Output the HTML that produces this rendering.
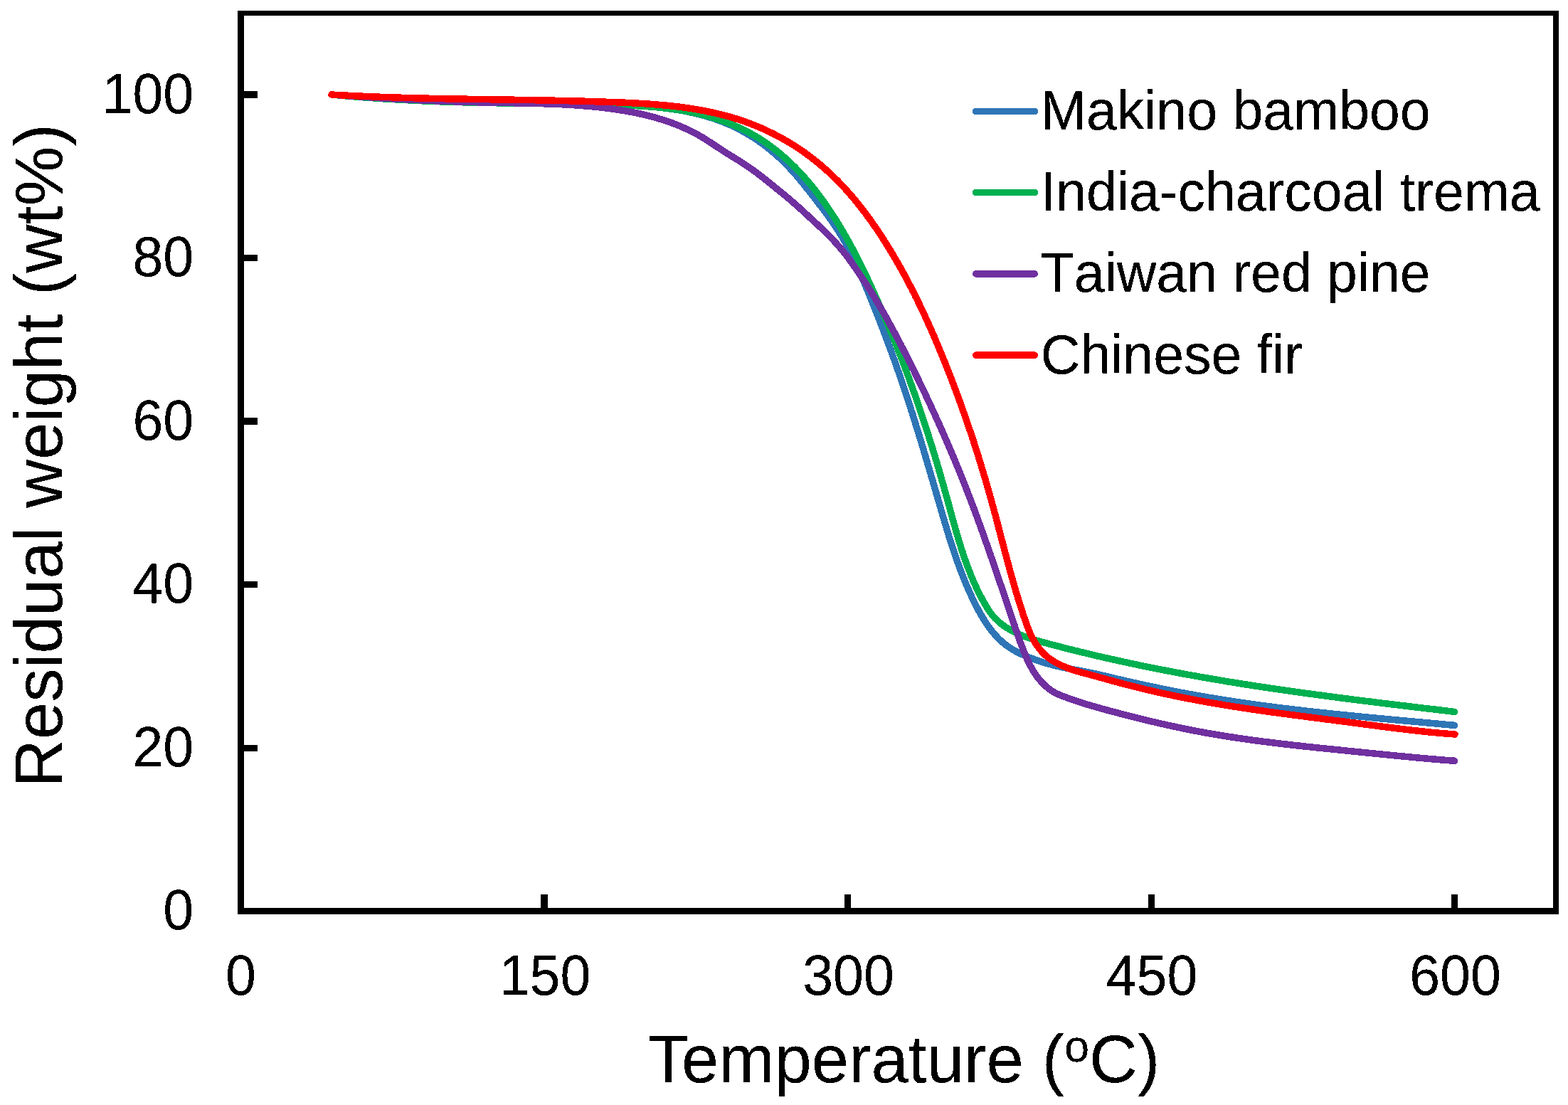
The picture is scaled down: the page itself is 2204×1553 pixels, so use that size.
<!DOCTYPE html>
<html lang="en"><head><meta charset="utf-8">
<title>Thermogravimetric curves: residual weight versus temperature</title>
<style>
html,body{margin:0;padding:0;background:#fff;}
body{width:2204px;height:1553px;overflow:hidden;}
svg{display:block;}
text{font-family:"Liberation Sans", sans-serif;fill:#000;}
.ax{fill:#000;shape-rendering:crispEdges;}
.cv{fill:none;stroke-linecap:round;stroke-linejoin:round;shape-rendering:crispEdges;}
.tx{filter:url(#bw);}
.nk{font-kerning:none;font-feature-settings:"kern" 0,"liga" 0;}
</style></head><body>
<svg width="2204" height="1553" viewBox="0 0 2204 1553" role="img" aria-label="TGA curves">
<defs><filter id="bw" x="0" y="0" width="100%" height="100%" filterUnits="userSpaceOnUse" color-interpolation-filters="sRGB"><feComponentTransfer><feFuncA type="discrete" tableValues="0 0 1 1 1"/></feComponentTransfer></filter></defs>
<rect x="0" y="0" width="2204" height="1553" fill="#fff"/>
<g class="cv" stroke-width="9.5">
<path id="c-blue" stroke="#2E75B6" d="M466.0,133.0 L469.0,133.3 L472.0,133.6 L475.0,133.8 L478.0,134.1 L481.1,134.4 L484.1,134.6 L487.1,134.9 L490.1,135.2 L493.1,135.4 L496.1,135.6 L499.1,135.9 L502.1,136.1 L505.1,136.4 L508.1,136.6 L511.1,136.8 L514.1,137.1 L517.1,137.3 L520.1,137.5 L523.1,137.7 L526.1,137.9 L529.1,138.1 L532.1,138.3 L535.1,138.5 L538.1,138.7 L541.1,138.9 L544.1,139.1 L547.1,139.3 L550.1,139.5 L553.1,139.6 L556.0,139.8 L559.0,140.0 L562.0,140.2 L565.0,140.3 L568.0,140.5 L571.0,140.6 L574.0,140.8 L577.0,140.9 L580.0,141.1 L583.0,141.2 L586.0,141.4 L588.9,141.5 L591.9,141.7 L594.9,141.8 L597.9,141.9 L600.9,142.0 L603.9,142.2 L606.9,142.3 L609.8,142.4 L612.8,142.5 L615.8,142.6 L618.8,142.7 L621.8,142.9 L624.8,143.0 L627.8,143.1 L630.7,143.2 L633.7,143.3 L636.7,143.3 L639.7,143.4 L642.7,143.5 L645.7,143.6 L648.7,143.7 L651.6,143.8 L654.6,143.9 L657.6,143.9 L660.6,144.0 L663.6,144.1 L666.6,144.1 L669.6,144.2 L672.5,144.3 L675.5,144.3 L678.5,144.4 L681.5,144.5 L684.5,144.5 L687.5,144.6 L690.5,144.6 L693.5,144.7 L696.4,144.7 L699.4,144.8 L702.4,144.8 L705.4,144.8 L708.4,144.9 L711.4,144.9 L714.4,145.0 L717.4,145.0 L720.4,145.0 L723.4,145.1 L726.3,145.1 L729.3,145.1 L732.3,145.2 L735.3,145.2 L738.3,145.2 L741.3,145.3 L744.3,145.3 L747.3,145.3 L750.3,145.4 L753.3,145.4 L756.3,145.4 L759.3,145.5 L762.3,145.5 L765.3,145.5 L768.3,145.6 L771.3,145.6 L774.3,145.6 L777.3,145.7 L780.3,145.7 L783.3,145.7 L786.3,145.8 L789.3,145.8 L792.3,145.8 L795.3,145.9 L798.3,145.9 L801.3,146.0 L804.3,146.0 L807.3,146.1 L810.4,146.1 L813.4,146.2 L816.4,146.2 L819.4,146.3 L822.4,146.3 L825.4,146.4 L828.4,146.4 L831.5,146.5 L834.5,146.6 L837.5,146.6 L840.5,146.7 L843.5,146.8 L846.6,146.9 L849.6,146.9 L852.6,147.0 L855.6,147.1 L858.7,147.2 L861.7,147.3 L864.7,147.4 L867.8,147.5 L870.8,147.6 L873.8,147.7 L876.9,147.8 L879.9,147.9 L882.9,148.1 L885.9,148.2 L889.0,148.4 L892.0,148.5 L895.0,148.7 L898.1,148.9 L901.1,149.1 L904.1,149.3 L907.1,149.5 L910.1,149.7 L913.2,149.9 L916.2,150.2 L919.2,150.4 L922.2,150.7 L925.2,151.0 L928.2,151.3 L931.2,151.6 L934.2,152.0 L937.1,152.3 L940.1,152.7 L943.1,153.1 L946.1,153.5 L949.0,154.0 L952.0,154.4 L954.9,154.9 L957.9,155.4 L960.8,155.9 L963.7,156.5 L966.7,157.1 L969.6,157.7 L972.5,158.3 L975.4,158.9 L978.3,159.6 L981.2,160.3 L984.0,161.0 L986.9,161.8 L989.7,162.6 L992.6,163.4 L995.4,164.2 L998.3,165.1 L1001.1,166.0 L1003.9,166.9 L1006.7,167.9 L1009.5,168.9 L1012.2,169.9 L1015.0,170.9 L1017.8,172.0 L1020.5,173.2 L1023.2,174.3 L1025.9,175.5 L1028.7,176.7 L1031.3,178.0 L1034.0,179.3 L1036.7,180.6 L1039.3,182.0 L1042.0,183.4 L1044.6,184.8 L1047.2,186.3 L1049.8,187.8 L1052.4,189.3 L1055.0,190.9 L1057.5,192.5 L1060.0,194.1 L1062.6,195.7 L1065.1,197.4 L1067.6,199.2 L1070.0,200.9 L1072.5,202.7 L1074.9,204.5 L1077.3,206.4 L1079.7,208.3 L1082.1,210.2 L1084.4,212.1 L1086.8,214.1 L1089.1,216.1 L1091.4,218.1 L1093.6,220.1 L1095.9,222.1 L1098.1,224.2 L1100.3,226.3 L1102.4,228.4 L1104.6,230.6 L1106.7,232.7 L1108.8,234.9 L1110.8,237.1 L1112.9,239.3 L1114.9,241.5 L1116.8,243.7 L1118.8,246.0 L1120.7,248.2 L1122.7,250.5 L1124.6,252.8 L1126.4,255.1 L1128.3,257.4 L1130.2,259.7 L1132.0,262.0 L1133.9,264.4 L1135.7,266.7 L1137.6,269.0 L1139.4,271.4 L1141.3,273.7 L1143.1,276.1 L1145.0,278.5 L1146.8,280.8 L1148.7,283.2 L1150.5,285.6 L1152.3,288.0 L1154.2,290.3 L1156.0,292.7 L1157.8,295.1 L1159.6,297.5 L1161.4,300.0 L1163.2,302.4 L1164.9,304.8 L1166.7,307.3 L1168.4,309.7 L1170.2,312.2 L1171.9,314.7 L1173.5,317.2 L1175.2,319.7 L1176.8,322.2 L1178.5,324.7 L1180.1,327.3 L1181.6,329.8 L1183.2,332.4 L1184.7,334.9 L1186.2,337.5 L1187.7,340.1 L1189.1,342.8 L1190.6,345.4 L1192.0,348.0 L1193.4,350.7 L1194.7,353.3 L1196.1,356.0 L1197.4,358.7 L1198.7,361.3 L1200.0,364.0 L1201.3,366.7 L1202.6,369.5 L1203.9,372.2 L1205.1,374.9 L1206.3,377.6 L1207.6,380.4 L1208.8,383.1 L1210.0,385.9 L1211.2,388.6 L1212.3,391.4 L1213.5,394.1 L1214.7,396.9 L1215.8,399.7 L1217.0,402.5 L1218.1,405.2 L1219.3,408.0 L1220.4,410.8 L1221.5,413.6 L1222.6,416.4 L1223.8,419.2 L1224.9,422.0 L1226.0,424.8 L1227.1,427.5 L1228.2,430.3 L1229.3,433.1 L1230.4,435.9 L1231.6,438.7 L1232.7,441.5 L1233.8,444.3 L1234.9,447.1 L1236.0,449.9 L1237.1,452.7 L1238.1,455.5 L1239.2,458.3 L1240.3,461.1 L1241.4,463.9 L1242.5,466.7 L1243.5,469.6 L1244.6,472.4 L1245.7,475.2 L1246.7,478.0 L1247.8,480.8 L1248.8,483.6 L1249.9,486.4 L1250.9,489.2 L1252.0,492.0 L1253.0,494.9 L1254.0,497.7 L1255.1,500.5 L1256.1,503.3 L1257.1,506.1 L1258.1,509.0 L1259.1,511.8 L1260.1,514.6 L1261.1,517.4 L1262.1,520.3 L1263.1,523.1 L1264.1,525.9 L1265.0,528.7 L1266.0,531.6 L1267.0,534.4 L1268.0,537.2 L1268.9,540.1 L1269.9,542.9 L1270.8,545.8 L1271.8,548.6 L1272.7,551.4 L1273.7,554.3 L1274.6,557.1 L1275.5,560.0 L1276.5,562.8 L1277.4,565.6 L1278.3,568.5 L1279.2,571.3 L1280.1,574.2 L1281.0,577.0 L1282.0,579.9 L1282.9,582.7 L1283.8,585.6 L1284.7,588.4 L1285.6,591.3 L1286.5,594.1 L1287.3,597.0 L1288.2,599.9 L1289.1,602.7 L1290.0,605.6 L1290.9,608.4 L1291.8,611.3 L1292.6,614.2 L1293.5,617.0 L1294.4,619.9 L1295.3,622.8 L1296.1,625.6 L1297.0,628.5 L1297.9,631.4 L1298.7,634.2 L1299.6,637.1 L1300.4,640.0 L1301.3,642.9 L1302.1,645.7 L1303.0,648.6 L1303.8,651.5 L1304.7,654.4 L1305.5,657.2 L1306.4,660.1 L1307.2,663.0 L1308.1,665.9 L1308.9,668.8 L1309.8,671.7 L1310.6,674.5 L1311.5,677.4 L1312.3,680.3 L1313.1,683.2 L1314.0,686.1 L1314.8,689.0 L1315.7,691.9 L1316.5,694.8 L1317.3,697.7 L1318.2,700.6 L1319.0,703.5 L1319.9,706.4 L1320.7,709.3 L1321.5,712.2 L1322.4,715.1 L1323.2,718.0 L1324.1,720.9 L1324.9,723.8 L1325.8,726.7 L1326.6,729.6 L1327.5,732.5 L1328.3,735.3 L1329.2,738.2 L1330.1,741.1 L1330.9,744.0 L1331.8,746.9 L1332.7,749.8 L1333.6,752.7 L1334.5,755.6 L1335.4,758.4 L1336.3,761.3 L1337.2,764.2 L1338.1,767.0 L1339.1,769.9 L1340.0,772.8 L1341.0,775.6 L1341.9,778.5 L1342.9,781.3 L1343.9,784.1 L1344.9,787.0 L1345.9,789.8 L1346.9,792.6 L1347.9,795.4 L1349.0,798.2 L1350.0,801.0 L1351.1,803.8 L1352.2,806.6 L1353.2,809.4 L1354.3,812.2 L1355.5,815.0 L1356.6,817.7 L1357.7,820.5 L1358.9,823.2 L1360.1,826.0 L1361.3,828.7 L1362.5,831.4 L1363.7,834.1 L1365.0,836.8 L1366.2,839.5 L1367.5,842.2 L1368.8,844.9 L1370.1,847.5 L1371.4,850.2 L1372.8,852.8 L1374.2,855.4 L1375.6,858.1 L1377.0,860.7 L1378.5,863.3 L1380.0,865.8 L1381.5,868.4 L1383.1,871.0 L1384.7,873.5 L1386.4,876.1 L1388.1,878.6 L1389.8,881.1 L1391.6,883.5 L1393.5,885.9 L1395.4,888.3 L1397.3,890.6 L1399.3,892.9 L1401.4,895.1 L1403.5,897.3 L1405.7,899.4 L1407.9,901.4 L1410.1,903.4 L1412.4,905.3 L1414.8,907.1 L1417.2,908.8 L1419.7,910.5 L1422.2,912.1 L1424.8,913.6 L1427.3,915.1 L1430.0,916.5 L1432.6,917.9 L1435.3,919.2 L1438.0,920.4 L1440.8,921.6 L1443.6,922.7 L1446.4,923.8 L1449.2,924.9 L1452.0,926.0 L1454.9,927.0 L1457.7,928.1 L1460.6,929.0 L1463.5,930.0 L1466.4,930.9 L1469.3,931.8 L1472.2,932.7 L1475.1,933.5 L1478.0,934.2 L1480.9,935.0 L1483.8,935.7 L1486.8,936.4 L1489.7,937.0 L1492.6,937.7 L1495.5,938.3 L1498.4,938.9 L1501.3,939.4 L1504.2,940.0 L1507.1,940.6 L1510.1,941.1 L1513.0,941.7 L1515.9,942.2 L1518.8,942.7 L1521.7,943.3 L1524.6,943.8 L1527.6,944.4 L1530.5,945.0 L1533.4,945.6 L1536.3,946.2 L1539.2,946.8 L1542.2,947.5 L1545.1,948.1 L1548.0,948.8 L1550.9,949.5 L1553.9,950.2 L1556.8,950.9 L1559.7,951.6 L1562.6,952.3 L1565.6,953.0 L1568.5,953.7 L1571.4,954.4 L1574.4,955.1 L1577.3,955.8 L1580.2,956.5 L1583.2,957.1 L1586.1,957.8 L1589.0,958.5 L1592.0,959.1 L1594.9,959.8 L1597.8,960.4 L1600.8,961.1 L1603.7,961.7 L1606.6,962.4 L1609.6,963.0 L1612.5,963.6 L1615.5,964.3 L1618.4,964.9 L1621.3,965.5 L1624.3,966.1 L1627.2,966.7 L1630.2,967.3 L1633.1,968.0 L1636.1,968.5 L1639.0,969.1 L1642.0,969.7 L1644.9,970.3 L1647.8,970.9 L1650.8,971.5 L1653.7,972.0 L1656.7,972.6 L1659.6,973.2 L1662.6,973.7 L1665.5,974.3 L1668.5,974.8 L1671.4,975.4 L1674.4,975.9 L1677.4,976.4 L1680.3,977.0 L1683.3,977.5 L1686.2,978.0 L1689.2,978.5 L1692.1,979.0 L1695.1,979.6 L1698.0,980.1 L1701.0,980.6 L1704.0,981.0 L1706.9,981.5 L1709.9,982.0 L1712.8,982.5 L1715.8,983.0 L1718.8,983.4 L1721.7,983.9 L1724.7,984.4 L1727.7,984.8 L1730.6,985.3 L1733.6,985.7 L1736.5,986.2 L1739.5,986.6 L1742.5,987.1 L1745.4,987.5 L1748.4,987.9 L1751.4,988.4 L1754.4,988.8 L1757.3,989.2 L1760.3,989.6 L1763.3,990.0 L1766.2,990.4 L1769.2,990.8 L1772.2,991.3 L1775.1,991.6 L1778.1,992.0 L1781.1,992.4 L1784.1,992.8 L1787.0,993.2 L1790.0,993.6 L1793.0,994.0 L1796.0,994.4 L1798.9,994.7 L1801.9,995.1 L1804.9,995.5 L1807.9,995.8 L1810.8,996.2 L1813.8,996.5 L1816.8,996.9 L1819.8,997.3 L1822.7,997.6 L1825.7,998.0 L1828.7,998.3 L1831.7,998.6 L1834.7,999.0 L1837.6,999.3 L1840.6,999.7 L1843.6,1000.0 L1846.6,1000.3 L1849.6,1000.7 L1852.5,1001.0 L1855.5,1001.3 L1858.5,1001.6 L1861.5,1001.9 L1864.5,1002.3 L1867.5,1002.6 L1870.4,1002.9 L1873.4,1003.2 L1876.4,1003.5 L1879.4,1003.8 L1882.4,1004.1 L1885.4,1004.4 L1888.3,1004.7 L1891.3,1005.0 L1894.3,1005.3 L1897.3,1005.6 L1900.3,1005.9 L1903.3,1006.2 L1906.3,1006.5 L1909.2,1006.8 L1912.2,1007.1 L1915.2,1007.4 L1918.2,1007.7 L1921.2,1008.0 L1924.2,1008.3 L1927.2,1008.6 L1930.1,1008.8 L1933.1,1009.1 L1936.1,1009.4 L1939.1,1009.7 L1942.1,1010.0 L1945.1,1010.2 L1948.1,1010.5 L1951.1,1010.8 L1954.0,1011.1 L1957.0,1011.4 L1960.0,1011.6 L1963.0,1011.9 L1966.0,1012.2 L1969.0,1012.5 L1972.0,1012.7 L1975.0,1013.0 L1977.9,1013.3 L1980.9,1013.6 L1983.9,1013.8 L1986.9,1014.1 L1989.9,1014.4 L1992.9,1014.7 L1995.9,1014.9 L1998.9,1015.2 L2001.8,1015.5 L2004.8,1015.7 L2007.8,1016.0 L2010.8,1016.3 L2013.8,1016.6 L2016.8,1016.8 L2019.8,1017.1 L2022.8,1017.4 L2025.8,1017.7 L2028.7,1017.9 L2031.7,1018.2 L2034.7,1018.5 L2037.7,1018.8 L2040.7,1019.0 L2043.7,1019.3 L2044.5,1019.4"/>
<path id="c-green" stroke="#00B050" d="M466.0,133.0 L469.0,133.3 L472.0,133.6 L475.0,133.8 L478.0,134.1 L481.0,134.4 L484.0,134.6 L487.0,134.9 L489.9,135.1 L492.9,135.4 L495.9,135.6 L498.9,135.9 L501.9,136.1 L504.9,136.4 L507.9,136.6 L510.9,136.8 L513.9,137.0 L516.9,137.3 L519.9,137.5 L522.9,137.7 L525.9,137.9 L528.9,138.1 L531.9,138.3 L534.9,138.5 L537.8,138.7 L540.8,138.9 L543.8,139.1 L546.8,139.3 L549.8,139.5 L552.8,139.6 L555.8,139.8 L558.8,140.0 L561.8,140.1 L564.8,140.3 L567.8,140.5 L570.8,140.6 L573.8,140.8 L576.8,140.9 L579.8,141.1 L582.8,141.2 L585.7,141.4 L588.7,141.5 L591.7,141.7 L594.7,141.8 L597.7,141.9 L600.7,142.0 L603.7,142.2 L606.7,142.3 L609.7,142.4 L612.7,142.5 L615.7,142.6 L618.7,142.8 L621.7,142.9 L624.7,143.0 L627.7,143.1 L630.7,143.2 L633.7,143.3 L636.7,143.4 L639.7,143.4 L642.6,143.5 L645.6,143.6 L648.6,143.7 L651.6,143.8 L654.6,143.9 L657.6,143.9 L660.6,144.0 L663.6,144.1 L666.6,144.2 L669.6,144.2 L672.6,144.3 L675.6,144.3 L678.6,144.4 L681.6,144.5 L684.6,144.5 L687.6,144.6 L690.6,144.6 L693.6,144.7 L696.6,144.7 L699.6,144.8 L702.6,144.8 L705.6,144.9 L708.6,144.9 L711.6,144.9 L714.6,145.0 L717.6,145.0 L720.6,145.0 L723.6,145.1 L726.6,145.1 L729.6,145.1 L732.6,145.2 L735.6,145.2 L738.6,145.2 L741.6,145.3 L744.6,145.3 L747.6,145.3 L750.6,145.4 L753.6,145.4 L756.6,145.4 L759.6,145.5 L762.6,145.5 L765.6,145.5 L768.6,145.5 L771.6,145.6 L774.6,145.6 L777.6,145.6 L780.6,145.7 L783.6,145.7 L786.6,145.8 L789.6,145.8 L792.6,145.8 L795.6,145.9 L798.6,145.9 L801.6,146.0 L804.6,146.0 L807.6,146.0 L810.6,146.1 L813.6,146.1 L816.6,146.2 L819.6,146.2 L822.6,146.3 L825.6,146.4 L828.6,146.4 L831.6,146.5 L834.6,146.5 L837.6,146.6 L840.6,146.7 L843.7,146.8 L846.7,146.8 L849.7,146.9 L852.7,147.0 L855.7,147.1 L858.7,147.2 L861.7,147.3 L864.7,147.4 L867.7,147.5 L870.7,147.6 L873.7,147.7 L876.7,147.8 L879.7,147.9 L882.7,148.1 L885.7,148.2 L888.7,148.3 L891.7,148.5 L894.8,148.7 L897.8,148.8 L900.8,149.0 L903.7,149.2 L906.7,149.4 L909.7,149.6 L912.7,149.9 L915.7,150.1 L918.7,150.4 L921.7,150.6 L924.7,150.9 L927.7,151.2 L930.6,151.5 L933.6,151.9 L936.6,152.2 L939.6,152.6 L942.5,152.9 L945.5,153.3 L948.4,153.8 L951.4,154.2 L954.4,154.7 L957.3,155.1 L960.2,155.6 L963.2,156.2 L966.1,156.7 L969.1,157.3 L972.0,157.8 L974.9,158.5 L977.8,159.1 L980.7,159.7 L983.6,160.4 L986.6,161.1 L989.5,161.9 L992.3,162.6 L995.2,163.4 L998.1,164.2 L1001.0,165.1 L1003.9,166.0 L1006.7,166.9 L1009.6,167.8 L1012.4,168.8 L1015.3,169.8 L1018.1,170.8 L1020.9,171.8 L1023.8,172.9 L1026.6,174.0 L1029.4,175.2 L1032.1,176.4 L1034.9,177.6 L1037.7,178.8 L1040.4,180.1 L1043.1,181.4 L1045.9,182.7 L1048.6,184.1 L1051.2,185.4 L1053.9,186.9 L1056.5,188.3 L1059.1,189.8 L1061.7,191.3 L1064.3,192.8 L1066.9,194.4 L1069.4,196.0 L1071.9,197.6 L1074.4,199.3 L1076.9,201.0 L1079.3,202.7 L1081.7,204.4 L1084.1,206.2 L1086.5,208.0 L1088.9,209.8 L1091.2,211.7 L1093.6,213.5 L1095.9,215.4 L1098.2,217.4 L1100.4,219.3 L1102.7,221.3 L1104.9,223.3 L1107.1,225.3 L1109.3,227.3 L1111.5,229.4 L1113.6,231.4 L1115.8,233.5 L1117.9,235.6 L1120.0,237.8 L1122.1,239.9 L1124.1,242.1 L1126.2,244.3 L1128.2,246.5 L1130.2,248.8 L1132.2,251.0 L1134.1,253.3 L1136.1,255.6 L1138.0,257.9 L1140.0,260.2 L1141.9,262.5 L1143.7,264.9 L1145.6,267.2 L1147.5,269.6 L1149.3,272.0 L1151.1,274.4 L1152.9,276.8 L1154.7,279.2 L1156.5,281.7 L1158.3,284.1 L1160.0,286.6 L1161.7,289.1 L1163.4,291.6 L1165.1,294.0 L1166.8,296.5 L1168.5,299.1 L1170.1,301.6 L1171.8,304.1 L1173.4,306.7 L1175.0,309.2 L1176.6,311.8 L1178.2,314.3 L1179.7,316.9 L1181.3,319.4 L1182.8,322.0 L1184.3,324.6 L1185.8,327.2 L1187.3,329.8 L1188.8,332.4 L1190.3,335.0 L1191.8,337.6 L1193.2,340.2 L1194.6,342.8 L1196.1,345.5 L1197.5,348.1 L1198.9,350.7 L1200.3,353.4 L1201.7,356.0 L1203.0,358.7 L1204.4,361.3 L1205.8,364.0 L1207.1,366.7 L1208.4,369.3 L1209.8,372.0 L1211.1,374.7 L1212.4,377.4 L1213.7,380.0 L1215.0,382.7 L1216.3,385.4 L1217.6,388.1 L1218.9,390.8 L1220.1,393.5 L1221.4,396.2 L1222.7,399.0 L1223.9,401.7 L1225.2,404.4 L1226.4,407.1 L1227.6,409.9 L1228.9,412.6 L1230.1,415.3 L1231.3,418.1 L1232.5,420.8 L1233.8,423.5 L1235.0,426.3 L1236.2,429.0 L1237.4,431.8 L1238.6,434.6 L1239.8,437.3 L1241.0,440.1 L1242.2,442.8 L1243.4,445.6 L1244.6,448.4 L1245.8,451.1 L1246.9,453.9 L1248.1,456.7 L1249.3,459.5 L1250.4,462.2 L1251.6,465.0 L1252.7,467.8 L1253.9,470.6 L1255.0,473.4 L1256.2,476.2 L1257.3,479.0 L1258.4,481.8 L1259.6,484.6 L1260.7,487.3 L1261.8,490.1 L1262.9,492.9 L1264.0,495.7 L1265.1,498.5 L1266.2,501.3 L1267.3,504.1 L1268.4,507.0 L1269.4,509.8 L1270.5,512.6 L1271.6,515.4 L1272.6,518.2 L1273.7,521.0 L1274.7,523.8 L1275.8,526.6 L1276.8,529.4 L1277.9,532.2 L1278.9,535.1 L1279.9,537.9 L1280.9,540.7 L1282.0,543.5 L1283.0,546.3 L1284.0,549.1 L1285.0,552.0 L1286.0,554.8 L1287.0,557.6 L1287.9,560.4 L1288.9,563.3 L1289.9,566.1 L1290.9,568.9 L1291.8,571.8 L1292.8,574.6 L1293.8,577.4 L1294.7,580.3 L1295.7,583.1 L1296.6,585.9 L1297.5,588.8 L1298.5,591.6 L1299.4,594.5 L1300.3,597.3 L1301.3,600.2 L1302.2,603.0 L1303.1,605.9 L1304.0,608.7 L1304.9,611.6 L1305.8,614.4 L1306.7,617.3 L1307.6,620.1 L1308.5,623.0 L1309.4,625.8 L1310.3,628.7 L1311.2,631.6 L1312.0,634.4 L1312.9,637.3 L1313.8,640.2 L1314.6,643.0 L1315.5,645.9 L1316.4,648.8 L1317.2,651.6 L1318.1,654.5 L1318.9,657.4 L1319.8,660.3 L1320.6,663.2 L1321.4,666.0 L1322.3,668.9 L1323.1,671.8 L1323.9,674.7 L1324.8,677.6 L1325.6,680.5 L1326.4,683.4 L1327.2,686.3 L1328.0,689.2 L1328.8,692.1 L1329.7,695.0 L1330.5,697.9 L1331.3,700.8 L1332.1,703.7 L1332.9,706.6 L1333.7,709.5 L1334.4,712.4 L1335.2,715.3 L1336.0,718.2 L1336.8,721.1 L1337.6,724.0 L1338.4,726.9 L1339.2,729.9 L1340.0,732.8 L1340.8,735.7 L1341.7,738.6 L1342.5,741.5 L1343.3,744.4 L1344.1,747.3 L1345.0,750.2 L1345.8,753.1 L1346.7,755.9 L1347.5,758.8 L1348.4,761.7 L1349.3,764.6 L1350.2,767.5 L1351.1,770.3 L1352.0,773.2 L1353.0,776.0 L1353.9,778.9 L1354.9,781.7 L1355.8,784.6 L1356.8,787.4 L1357.8,790.2 L1358.8,793.0 L1359.9,795.8 L1360.9,798.6 L1362.0,801.4 L1363.1,804.2 L1364.2,807.0 L1365.3,809.8 L1366.5,812.5 L1367.6,815.3 L1368.8,818.0 L1370.1,820.7 L1371.3,823.5 L1372.6,826.2 L1373.8,828.9 L1375.1,831.5 L1376.5,834.2 L1377.8,836.9 L1379.2,839.5 L1380.6,842.2 L1382.1,844.8 L1383.6,847.4 L1385.1,850.0 L1386.6,852.6 L1388.2,855.1 L1389.8,857.6 L1391.5,860.1 L1393.3,862.5 L1395.1,864.9 L1397.1,867.2 L1399.1,869.4 L1401.3,871.5 L1403.5,873.6 L1405.8,875.5 L1408.2,877.4 L1410.6,879.2 L1413.1,881.0 L1415.6,882.6 L1418.2,884.2 L1420.8,885.7 L1423.5,887.2 L1426.1,888.5 L1428.8,889.8 L1431.5,891.1 L1434.2,892.2 L1436.9,893.3 L1439.7,894.4 L1442.4,895.4 L1445.2,896.4 L1448.0,897.3 L1450.8,898.2 L1453.7,899.1 L1456.5,900.0 L1459.3,900.8 L1462.2,901.6 L1465.1,902.4 L1468.0,903.2 L1470.9,903.9 L1473.8,904.7 L1476.7,905.5 L1479.6,906.3 L1482.5,907.0 L1485.4,907.8 L1488.4,908.6 L1491.3,909.3 L1494.2,910.1 L1497.2,910.8 L1500.1,911.6 L1503.0,912.3 L1506.0,913.0 L1508.9,913.8 L1511.8,914.5 L1514.8,915.2 L1517.7,916.0 L1520.6,916.7 L1523.6,917.4 L1526.5,918.1 L1529.4,918.8 L1532.4,919.5 L1535.3,920.2 L1538.2,920.9 L1541.2,921.6 L1544.1,922.3 L1547.0,922.9 L1549.9,923.6 L1552.9,924.3 L1555.8,925.0 L1558.7,925.6 L1561.7,926.3 L1564.6,926.9 L1567.5,927.6 L1570.5,928.2 L1573.4,928.9 L1576.3,929.5 L1579.3,930.2 L1582.2,930.8 L1585.1,931.4 L1588.1,932.1 L1591.0,932.7 L1593.9,933.3 L1596.9,933.9 L1599.8,934.5 L1602.7,935.2 L1605.7,935.8 L1608.6,936.4 L1611.5,937.0 L1614.5,937.6 L1617.4,938.2 L1620.3,938.8 L1623.3,939.3 L1626.2,939.9 L1629.2,940.5 L1632.1,941.1 L1635.0,941.7 L1638.0,942.2 L1640.9,942.8 L1643.8,943.4 L1646.8,943.9 L1649.7,944.5 L1652.7,945.0 L1655.6,945.6 L1658.5,946.1 L1661.5,946.7 L1664.4,947.2 L1667.4,947.8 L1670.3,948.3 L1673.3,948.8 L1676.2,949.4 L1679.1,949.9 L1682.1,950.4 L1685.0,950.9 L1688.0,951.5 L1690.9,952.0 L1693.9,952.5 L1696.8,953.0 L1699.8,953.5 L1702.7,954.0 L1705.7,954.5 L1708.6,955.0 L1711.6,955.5 L1714.5,956.0 L1717.5,956.5 L1720.4,957.0 L1723.4,957.5 L1726.3,958.0 L1729.3,958.5 L1732.3,958.9 L1735.2,959.4 L1738.2,959.9 L1741.1,960.4 L1744.1,960.8 L1747.1,961.3 L1750.0,961.8 L1753.0,962.2 L1755.9,962.7 L1758.9,963.2 L1761.9,963.6 L1764.8,964.1 L1767.8,964.5 L1770.8,965.0 L1773.7,965.4 L1776.7,965.9 L1779.7,966.3 L1782.6,966.8 L1785.6,967.2 L1788.6,967.6 L1791.5,968.1 L1794.5,968.5 L1797.5,968.9 L1800.5,969.4 L1803.4,969.8 L1806.4,970.2 L1809.4,970.7 L1812.3,971.1 L1815.3,971.5 L1818.3,971.9 L1821.3,972.3 L1824.2,972.8 L1827.2,973.2 L1830.2,973.6 L1833.2,974.0 L1836.1,974.4 L1839.1,974.8 L1842.1,975.2 L1845.1,975.6 L1848.0,976.0 L1851.0,976.4 L1854.0,976.8 L1857.0,977.2 L1860.0,977.6 L1862.9,978.0 L1865.9,978.4 L1868.9,978.8 L1871.9,979.2 L1874.8,979.6 L1877.8,980.0 L1880.8,980.4 L1883.8,980.8 L1886.8,981.1 L1889.7,981.5 L1892.7,981.9 L1895.7,982.3 L1898.7,982.7 L1901.7,983.1 L1904.6,983.4 L1907.6,983.8 L1910.6,984.2 L1913.6,984.6 L1916.6,984.9 L1919.5,985.3 L1922.5,985.7 L1925.5,986.0 L1928.5,986.4 L1931.5,986.8 L1934.4,987.2 L1937.4,987.5 L1940.4,987.9 L1943.4,988.3 L1946.4,988.6 L1949.3,989.0 L1952.3,989.4 L1955.3,989.7 L1958.3,990.1 L1961.3,990.4 L1964.2,990.8 L1967.2,991.2 L1970.2,991.5 L1973.2,991.9 L1976.2,992.2 L1979.1,992.6 L1982.1,993.0 L1985.1,993.3 L1988.1,993.7 L1991.0,994.0 L1994.0,994.4 L1997.0,994.7 L2000.0,995.1 L2002.9,995.5 L2005.9,995.8 L2008.9,996.2 L2011.9,996.5 L2014.9,996.9 L2017.8,997.2 L2020.8,997.6 L2023.8,997.9 L2026.8,998.3 L2029.7,998.6 L2032.7,999.0 L2035.7,999.4 L2038.6,999.7 L2041.6,1000.1 L2044.5,1000.4"/>
<path id="c-purple" stroke="#7030A0" d="M466.0,133.0 L469.0,133.2 L472.0,133.5 L474.9,133.7 L477.9,133.9 L480.9,134.1 L483.9,134.3 L486.9,134.5 L489.9,134.8 L492.9,135.0 L495.9,135.2 L498.8,135.4 L501.8,135.6 L504.8,135.8 L507.8,136.0 L510.8,136.2 L513.8,136.4 L516.8,136.6 L519.8,136.8 L522.8,137.0 L525.8,137.2 L528.8,137.4 L531.7,137.6 L534.7,137.8 L537.7,137.9 L540.7,138.1 L543.7,138.3 L546.7,138.5 L549.7,138.7 L552.7,138.8 L555.7,139.0 L558.7,139.2 L561.7,139.3 L564.7,139.5 L567.7,139.7 L570.7,139.8 L573.7,140.0 L576.7,140.1 L579.7,140.3 L582.7,140.4 L585.7,140.6 L588.7,140.7 L591.7,140.9 L594.7,141.0 L597.7,141.2 L600.7,141.3 L603.7,141.4 L606.7,141.6 L609.7,141.7 L612.7,141.8 L615.7,141.9 L618.7,142.1 L621.7,142.2 L624.7,142.3 L627.7,142.4 L630.7,142.5 L633.7,142.6 L636.7,142.7 L639.7,142.8 L642.7,142.9 L645.7,143.0 L648.7,143.1 L651.7,143.2 L654.7,143.3 L657.7,143.4 L660.7,143.5 L663.8,143.6 L666.8,143.7 L669.8,143.7 L672.8,143.8 L675.8,143.9 L678.8,143.9 L681.8,144.0 L684.8,144.1 L687.8,144.1 L690.8,144.2 L693.8,144.2 L696.8,144.3 L699.8,144.4 L702.8,144.4 L705.8,144.5 L708.8,144.5 L711.8,144.6 L714.8,144.6 L717.8,144.7 L720.8,144.7 L723.8,144.8 L726.8,144.8 L729.8,144.9 L732.8,144.9 L735.8,145.0 L738.8,145.0 L741.8,145.1 L744.8,145.2 L747.8,145.2 L750.8,145.3 L753.8,145.4 L756.8,145.5 L759.8,145.6 L762.8,145.7 L765.7,145.8 L768.7,145.9 L771.7,146.0 L774.7,146.1 L777.7,146.2 L780.7,146.3 L783.7,146.5 L786.7,146.6 L789.7,146.7 L792.7,146.9 L795.7,147.1 L798.7,147.2 L801.7,147.4 L804.6,147.6 L807.6,147.8 L810.6,148.0 L813.6,148.2 L816.6,148.4 L819.6,148.7 L822.6,148.9 L825.5,149.2 L828.5,149.4 L831.5,149.7 L834.5,150.0 L837.5,150.3 L840.5,150.6 L843.4,150.9 L846.4,151.3 L849.4,151.6 L852.4,152.0 L855.4,152.4 L858.3,152.8 L861.3,153.2 L864.3,153.6 L867.3,154.0 L870.2,154.5 L873.2,155.0 L876.2,155.4 L879.1,155.9 L882.1,156.5 L885.1,157.0 L888.0,157.6 L891.0,158.1 L893.9,158.7 L896.9,159.3 L899.8,160.0 L902.7,160.6 L905.7,161.3 L908.6,162.0 L911.5,162.7 L914.4,163.5 L917.3,164.2 L920.2,165.0 L923.1,165.9 L926.0,166.7 L928.8,167.6 L931.7,168.5 L934.5,169.4 L937.4,170.3 L940.2,171.3 L943.0,172.3 L945.8,173.3 L948.6,174.4 L951.4,175.5 L954.2,176.6 L957.0,177.8 L959.7,179.0 L962.5,180.2 L965.2,181.4 L967.9,182.7 L970.6,184.0 L973.3,185.4 L976.0,186.7 L978.6,188.2 L981.3,189.6 L983.9,191.1 L986.5,192.6 L989.1,194.2 L991.7,195.8 L994.2,197.4 L996.8,199.1 L999.3,200.7 L1001.9,202.4 L1004.4,204.1 L1006.9,205.8 L1009.4,207.4 L1012.0,209.1 L1014.5,210.7 L1017.0,212.4 L1019.6,214.0 L1022.1,215.6 L1024.6,217.1 L1027.2,218.7 L1029.7,220.3 L1032.2,221.9 L1034.7,223.5 L1037.3,225.0 L1039.8,226.6 L1042.3,228.2 L1044.8,229.9 L1047.3,231.5 L1049.8,233.1 L1052.2,234.8 L1054.7,236.5 L1057.2,238.2 L1059.6,240.0 L1062.0,241.7 L1064.5,243.5 L1066.9,245.4 L1069.3,247.2 L1071.7,249.1 L1074.0,251.0 L1076.4,252.8 L1078.8,254.7 L1081.1,256.6 L1083.5,258.5 L1085.8,260.4 L1088.1,262.3 L1090.4,264.2 L1092.7,266.1 L1095.0,267.9 L1097.3,269.8 L1099.6,271.6 L1101.9,273.5 L1104.2,275.3 L1106.5,277.2 L1108.7,279.1 L1111.0,281.0 L1113.2,283.0 L1115.5,284.9 L1117.7,286.9 L1120.0,288.9 L1122.2,290.9 L1124.5,292.9 L1126.7,295.0 L1128.9,297.0 L1131.2,299.1 L1133.4,301.1 L1135.6,303.2 L1137.8,305.3 L1140.1,307.3 L1142.3,309.4 L1144.5,311.5 L1146.7,313.5 L1149.0,315.6 L1151.2,317.7 L1153.4,319.7 L1155.6,321.8 L1157.7,323.9 L1159.9,326.0 L1162.1,328.1 L1164.2,330.2 L1166.3,332.3 L1168.4,334.5 L1170.5,336.6 L1172.5,338.8 L1174.5,341.0 L1176.5,343.2 L1178.5,345.4 L1180.4,347.6 L1182.3,349.9 L1184.2,352.2 L1186.0,354.5 L1187.9,356.8 L1189.7,359.1 L1191.5,361.5 L1193.2,363.9 L1195.0,366.3 L1196.7,368.7 L1198.5,371.1 L1200.2,373.5 L1201.9,376.0 L1203.6,378.4 L1205.3,380.9 L1207.0,383.4 L1208.7,385.9 L1210.4,388.4 L1212.0,390.9 L1213.7,393.5 L1215.4,396.0 L1217.0,398.6 L1218.7,401.1 L1220.3,403.7 L1221.9,406.3 L1223.5,408.8 L1225.1,411.4 L1226.7,414.0 L1228.3,416.6 L1229.9,419.2 L1231.4,421.8 L1233.0,424.4 L1234.5,427.0 L1236.1,429.6 L1237.6,432.2 L1239.1,434.8 L1240.6,437.4 L1242.1,440.0 L1243.6,442.6 L1245.0,445.2 L1246.5,447.8 L1247.9,450.4 L1249.4,453.1 L1250.8,455.7 L1252.3,458.3 L1253.7,460.9 L1255.1,463.6 L1256.5,466.2 L1257.9,468.8 L1259.3,471.5 L1260.7,474.1 L1262.1,476.8 L1263.5,479.4 L1264.9,482.1 L1266.3,484.7 L1267.6,487.4 L1269.0,490.0 L1270.3,492.7 L1271.7,495.3 L1273.1,498.0 L1274.4,500.6 L1275.8,503.3 L1277.1,506.0 L1278.4,508.7 L1279.8,511.3 L1281.1,514.0 L1282.4,516.7 L1283.8,519.4 L1285.1,522.0 L1286.4,524.7 L1287.7,527.4 L1289.1,530.1 L1290.4,532.8 L1291.7,535.5 L1293.0,538.2 L1294.3,540.9 L1295.6,543.6 L1296.9,546.3 L1298.2,549.0 L1299.5,551.7 L1300.8,554.4 L1302.1,557.1 L1303.3,559.8 L1304.6,562.6 L1305.9,565.3 L1307.2,568.0 L1308.4,570.7 L1309.7,573.5 L1310.9,576.2 L1312.2,578.9 L1313.5,581.6 L1314.7,584.4 L1316.0,587.1 L1317.2,589.8 L1318.4,592.6 L1319.7,595.3 L1320.9,598.1 L1322.1,600.8 L1323.3,603.6 L1324.6,606.3 L1325.8,609.1 L1327.0,611.8 L1328.2,614.6 L1329.4,617.3 L1330.6,620.1 L1331.8,622.8 L1333.0,625.6 L1334.2,628.4 L1335.4,631.1 L1336.5,633.9 L1337.7,636.6 L1338.9,639.4 L1340.1,642.2 L1341.2,645.0 L1342.4,647.7 L1343.5,650.5 L1344.7,653.3 L1345.8,656.1 L1347.0,658.8 L1348.1,661.6 L1349.2,664.4 L1350.4,667.2 L1351.5,670.0 L1352.6,672.8 L1353.7,675.5 L1354.8,678.3 L1356.0,681.1 L1357.1,683.9 L1358.2,686.7 L1359.2,689.5 L1360.3,692.3 L1361.4,695.1 L1362.5,697.9 L1363.6,700.7 L1364.6,703.5 L1365.7,706.3 L1366.8,709.1 L1367.8,711.9 L1368.9,714.7 L1369.9,717.5 L1371.0,720.3 L1372.0,723.1 L1373.1,726.0 L1374.1,728.8 L1375.1,731.6 L1376.1,734.4 L1377.2,737.2 L1378.2,740.0 L1379.2,742.8 L1380.2,745.7 L1381.2,748.5 L1382.2,751.3 L1383.2,754.1 L1384.2,756.9 L1385.2,759.8 L1386.2,762.6 L1387.2,765.4 L1388.2,768.2 L1389.2,771.1 L1390.2,773.9 L1391.2,776.7 L1392.2,779.5 L1393.1,782.4 L1394.1,785.2 L1395.1,788.0 L1396.1,790.9 L1397.0,793.7 L1398.0,796.5 L1399.0,799.4 L1400.0,802.2 L1400.9,805.0 L1401.9,807.9 L1402.9,810.7 L1403.8,813.6 L1404.8,816.4 L1405.7,819.2 L1406.7,822.1 L1407.7,824.9 L1408.6,827.8 L1409.6,830.6 L1410.6,833.5 L1411.5,836.3 L1412.5,839.1 L1413.4,842.0 L1414.4,844.8 L1415.4,847.7 L1416.3,850.5 L1417.3,853.4 L1418.2,856.2 L1419.2,859.1 L1420.2,861.9 L1421.1,864.8 L1422.1,867.6 L1423.1,870.5 L1424.0,873.3 L1425.0,876.2 L1426.0,879.0 L1426.9,881.9 L1427.9,884.7 L1428.9,887.6 L1429.9,890.4 L1430.9,893.3 L1431.9,896.1 L1432.9,898.9 L1433.9,901.8 L1434.9,904.6 L1436.0,907.4 L1437.1,910.2 L1438.2,913.0 L1439.3,915.8 L1440.4,918.5 L1441.6,921.3 L1442.7,924.0 L1443.9,926.7 L1445.2,929.4 L1446.5,932.1 L1447.8,934.8 L1449.2,937.4 L1450.7,940.0 L1452.2,942.6 L1453.8,945.2 L1455.5,947.7 L1457.2,950.2 L1459.0,952.6 L1460.9,955.0 L1462.9,957.3 L1464.9,959.5 L1467.0,961.7 L1469.2,963.7 L1471.4,965.7 L1473.7,967.5 L1476.1,969.3 L1478.5,970.9 L1481.0,972.5 L1483.6,973.9 L1486.2,975.2 L1488.9,976.4 L1491.6,977.5 L1494.4,978.6 L1497.2,979.7 L1500.0,980.7 L1502.9,981.7 L1505.7,982.8 L1508.6,983.8 L1511.5,984.7 L1514.4,985.7 L1517.3,986.7 L1520.2,987.6 L1523.1,988.5 L1525.9,989.4 L1528.8,990.3 L1531.7,991.1 L1534.6,992.0 L1537.5,992.8 L1540.4,993.7 L1543.3,994.5 L1546.2,995.3 L1549.1,996.1 L1552.0,996.9 L1554.9,997.7 L1557.8,998.5 L1560.7,999.2 L1563.6,1000.0 L1566.5,1000.8 L1569.4,1001.5 L1572.3,1002.3 L1575.2,1003.1 L1578.1,1003.8 L1581.0,1004.6 L1583.9,1005.3 L1586.8,1006.1 L1589.7,1006.8 L1592.6,1007.5 L1595.5,1008.3 L1598.4,1009.0 L1601.3,1009.7 L1604.2,1010.4 L1607.2,1011.2 L1610.1,1011.9 L1613.0,1012.6 L1615.9,1013.3 L1618.8,1014.0 L1621.7,1014.7 L1624.7,1015.3 L1627.6,1016.0 L1630.5,1016.7 L1633.4,1017.4 L1636.3,1018.0 L1639.3,1018.7 L1642.2,1019.3 L1645.1,1020.0 L1648.1,1020.6 L1651.0,1021.2 L1653.9,1021.9 L1656.8,1022.5 L1659.8,1023.1 L1662.7,1023.7 L1665.6,1024.3 L1668.6,1024.9 L1671.5,1025.5 L1674.5,1026.1 L1677.4,1026.7 L1680.3,1027.2 L1683.3,1027.8 L1686.2,1028.4 L1689.2,1028.9 L1692.1,1029.4 L1695.1,1030.0 L1698.0,1030.5 L1701.0,1031.0 L1703.9,1031.5 L1706.9,1032.0 L1709.8,1032.5 L1712.8,1033.0 L1715.7,1033.5 L1718.7,1034.0 L1721.6,1034.5 L1724.6,1035.0 L1727.6,1035.4 L1730.5,1035.9 L1733.5,1036.3 L1736.4,1036.8 L1739.4,1037.2 L1742.4,1037.7 L1745.3,1038.1 L1748.3,1038.5 L1751.3,1038.9 L1754.2,1039.3 L1757.2,1039.8 L1760.2,1040.2 L1763.1,1040.6 L1766.1,1041.0 L1769.1,1041.3 L1772.1,1041.7 L1775.0,1042.1 L1778.0,1042.5 L1781.0,1042.9 L1784.0,1043.2 L1786.9,1043.6 L1789.9,1044.0 L1792.9,1044.3 L1795.9,1044.7 L1798.8,1045.1 L1801.8,1045.4 L1804.8,1045.8 L1807.8,1046.1 L1810.8,1046.4 L1813.8,1046.8 L1816.7,1047.1 L1819.7,1047.4 L1822.7,1047.8 L1825.7,1048.1 L1828.7,1048.4 L1831.7,1048.8 L1834.6,1049.1 L1837.6,1049.4 L1840.6,1049.7 L1843.6,1050.0 L1846.6,1050.3 L1849.6,1050.7 L1852.6,1051.0 L1855.6,1051.3 L1858.5,1051.6 L1861.5,1051.9 L1864.5,1052.2 L1867.5,1052.5 L1870.5,1052.8 L1873.5,1053.1 L1876.5,1053.4 L1879.5,1053.7 L1882.5,1054.0 L1885.5,1054.3 L1888.4,1054.6 L1891.4,1054.9 L1894.4,1055.3 L1897.4,1055.6 L1900.4,1055.9 L1903.4,1056.2 L1906.4,1056.5 L1909.4,1056.8 L1912.4,1057.1 L1915.4,1057.4 L1918.4,1057.7 L1921.3,1058.0 L1924.3,1058.3 L1927.3,1058.6 L1930.3,1058.9 L1933.3,1059.2 L1936.3,1059.5 L1939.3,1059.8 L1942.3,1060.1 L1945.3,1060.4 L1948.3,1060.7 L1951.3,1061.0 L1954.3,1061.3 L1957.2,1061.6 L1960.2,1061.9 L1963.2,1062.2 L1966.2,1062.5 L1969.2,1062.8 L1972.2,1063.1 L1975.2,1063.3 L1978.2,1063.6 L1981.2,1063.9 L1984.1,1064.2 L1987.1,1064.5 L1990.1,1064.7 L1993.1,1065.0 L1996.1,1065.3 L1999.1,1065.6 L2002.1,1065.8 L2005.0,1066.1 L2008.0,1066.4 L2011.0,1066.6 L2014.0,1066.9 L2017.0,1067.1 L2020.0,1067.4 L2022.9,1067.6 L2025.9,1067.9 L2028.9,1068.1 L2031.9,1068.3 L2034.9,1068.6 L2037.8,1068.8 L2040.8,1069.0 L2043.8,1069.2 L2044.5,1069.3"/>
<path id="c-red" stroke="#FF0000" d="M466.0,133.0 L469.0,133.2 L472.0,133.4 L475.0,133.5 L478.0,133.7 L481.0,133.9 L484.0,134.0 L487.0,134.2 L490.0,134.3 L493.0,134.5 L496.0,134.6 L499.1,134.8 L502.1,134.9 L505.1,135.1 L508.1,135.2 L511.1,135.3 L514.1,135.5 L517.1,135.6 L520.1,135.7 L523.1,135.8 L526.1,136.0 L529.1,136.1 L532.1,136.2 L535.1,136.3 L538.1,136.4 L541.1,136.5 L544.1,136.6 L547.1,136.7 L550.0,136.8 L553.0,136.9 L556.0,137.0 L559.0,137.1 L562.0,137.2 L565.0,137.3 L568.0,137.4 L571.0,137.5 L574.0,137.5 L577.0,137.6 L580.0,137.7 L583.0,137.8 L586.0,137.9 L589.0,137.9 L592.0,138.0 L595.0,138.1 L598.0,138.1 L601.0,138.2 L604.0,138.3 L607.0,138.3 L610.0,138.4 L613.0,138.5 L616.0,138.5 L618.9,138.6 L621.9,138.7 L624.9,138.7 L627.9,138.8 L630.9,138.8 L633.9,138.9 L636.9,138.9 L639.9,139.0 L642.9,139.0 L645.9,139.1 L648.9,139.1 L651.9,139.2 L654.9,139.2 L657.9,139.3 L660.9,139.3 L663.9,139.4 L666.9,139.4 L669.8,139.5 L672.8,139.5 L675.8,139.6 L678.8,139.6 L681.8,139.7 L684.8,139.7 L687.8,139.7 L690.8,139.8 L693.8,139.8 L696.8,139.9 L699.8,139.9 L702.8,140.0 L705.8,140.0 L708.8,140.1 L711.8,140.1 L714.8,140.1 L717.8,140.2 L720.8,140.2 L723.8,140.3 L726.7,140.3 L729.7,140.4 L732.7,140.4 L735.7,140.5 L738.7,140.5 L741.7,140.6 L744.7,140.6 L747.7,140.7 L750.7,140.7 L753.7,140.8 L756.7,140.8 L759.7,140.9 L762.7,140.9 L765.7,141.0 L768.7,141.1 L771.7,141.1 L774.7,141.2 L777.7,141.2 L780.7,141.3 L783.7,141.4 L786.7,141.4 L789.7,141.5 L792.7,141.6 L795.7,141.6 L798.7,141.7 L801.7,141.8 L804.7,141.8 L807.7,141.9 L810.7,142.0 L813.7,142.1 L816.7,142.1 L819.8,142.2 L822.8,142.3 L825.8,142.4 L828.8,142.5 L831.8,142.6 L834.8,142.7 L837.8,142.8 L840.8,142.9 L843.8,143.0 L846.8,143.1 L849.8,143.2 L852.8,143.3 L855.8,143.4 L858.9,143.5 L861.9,143.6 L864.9,143.7 L867.9,143.8 L870.9,144.0 L873.9,144.1 L876.9,144.2 L879.9,144.3 L882.9,144.5 L886.0,144.6 L889.0,144.8 L892.0,144.9 L895.0,145.1 L898.0,145.3 L901.0,145.4 L904.0,145.6 L907.0,145.8 L910.0,146.0 L913.0,146.2 L916.0,146.4 L919.0,146.7 L922.0,146.9 L925.0,147.2 L928.0,147.4 L931.0,147.7 L934.0,148.0 L937.0,148.2 L940.0,148.5 L943.0,148.9 L946.0,149.2 L948.9,149.5 L951.9,149.9 L954.9,150.2 L957.9,150.6 L960.8,151.0 L963.8,151.4 L966.8,151.8 L969.7,152.3 L972.7,152.7 L975.6,153.2 L978.6,153.7 L981.5,154.2 L984.4,154.7 L987.4,155.3 L990.3,155.8 L993.2,156.4 L996.2,157.0 L999.1,157.6 L1002.0,158.2 L1004.9,158.9 L1007.8,159.6 L1010.7,160.3 L1013.6,161.0 L1016.5,161.7 L1019.4,162.5 L1022.3,163.2 L1025.1,164.0 L1028.0,164.9 L1030.9,165.7 L1033.7,166.6 L1036.6,167.5 L1039.4,168.4 L1042.3,169.3 L1045.1,170.3 L1047.9,171.3 L1050.7,172.3 L1053.6,173.4 L1056.4,174.4 L1059.2,175.5 L1062.0,176.6 L1064.7,177.8 L1067.5,179.0 L1070.3,180.1 L1073.0,181.4 L1075.8,182.6 L1078.5,183.9 L1081.2,185.2 L1083.9,186.5 L1086.6,187.8 L1089.3,189.2 L1092.0,190.6 L1094.7,192.0 L1097.3,193.4 L1100.0,194.9 L1102.6,196.4 L1105.2,197.9 L1107.8,199.4 L1110.4,201.0 L1112.9,202.5 L1115.5,204.1 L1118.0,205.7 L1120.5,207.4 L1123.0,209.0 L1125.5,210.7 L1128.0,212.4 L1130.4,214.1 L1132.9,215.9 L1135.3,217.7 L1137.7,219.4 L1140.1,221.2 L1142.4,223.1 L1144.8,224.9 L1147.1,226.8 L1149.5,228.7 L1151.8,230.6 L1154.1,232.5 L1156.3,234.5 L1158.6,236.4 L1160.8,238.4 L1163.1,240.4 L1165.3,242.4 L1167.5,244.5 L1169.6,246.5 L1171.8,248.6 L1173.9,250.7 L1176.1,252.8 L1178.2,254.9 L1180.3,257.1 L1182.3,259.2 L1184.4,261.4 L1186.5,263.6 L1188.5,265.8 L1190.5,268.1 L1192.5,270.3 L1194.5,272.6 L1196.4,274.8 L1198.4,277.1 L1200.3,279.4 L1202.3,281.7 L1204.2,284.1 L1206.1,286.4 L1207.9,288.8 L1209.8,291.1 L1211.7,293.5 L1213.5,295.9 L1215.3,298.3 L1217.1,300.7 L1218.9,303.1 L1220.7,305.6 L1222.5,308.0 L1224.2,310.4 L1226.0,312.9 L1227.7,315.4 L1229.4,317.8 L1231.1,320.3 L1232.8,322.8 L1234.5,325.3 L1236.2,327.8 L1237.8,330.3 L1239.5,332.9 L1241.1,335.4 L1242.7,337.9 L1244.3,340.4 L1245.9,343.0 L1247.5,345.5 L1249.1,348.1 L1250.7,350.6 L1252.2,353.2 L1253.8,355.8 L1255.3,358.3 L1256.8,360.9 L1258.3,363.5 L1259.8,366.1 L1261.3,368.7 L1262.8,371.3 L1264.3,373.9 L1265.8,376.5 L1267.2,379.1 L1268.7,381.7 L1270.1,384.3 L1271.5,386.9 L1272.9,389.5 L1274.3,392.2 L1275.7,394.8 L1277.1,397.5 L1278.5,400.1 L1279.9,402.7 L1281.3,405.4 L1282.6,408.1 L1284.0,410.7 L1285.3,413.4 L1286.6,416.1 L1288.0,418.7 L1289.3,421.4 L1290.6,424.1 L1291.9,426.8 L1293.2,429.5 L1294.5,432.2 L1295.8,434.9 L1297.0,437.6 L1298.3,440.3 L1299.6,443.0 L1300.8,445.7 L1302.0,448.4 L1303.3,451.1 L1304.5,453.8 L1305.7,456.6 L1307.0,459.3 L1308.2,462.0 L1309.4,464.8 L1310.6,467.5 L1311.8,470.3 L1313.0,473.0 L1314.2,475.8 L1315.3,478.5 L1316.5,481.3 L1317.7,484.0 L1318.8,486.8 L1320.0,489.6 L1321.1,492.3 L1322.3,495.1 L1323.4,497.9 L1324.6,500.6 L1325.7,503.4 L1326.8,506.2 L1328.0,509.0 L1329.1,511.8 L1330.2,514.6 L1331.3,517.4 L1332.4,520.2 L1333.5,523.0 L1334.6,525.8 L1335.7,528.6 L1336.8,531.4 L1337.9,534.2 L1338.9,537.0 L1340.0,539.8 L1341.1,542.6 L1342.1,545.5 L1343.2,548.3 L1344.3,551.1 L1345.3,553.9 L1346.4,556.8 L1347.4,559.6 L1348.4,562.4 L1349.5,565.3 L1350.5,568.1 L1351.5,570.9 L1352.5,573.8 L1353.5,576.6 L1354.5,579.5 L1355.5,582.3 L1356.5,585.2 L1357.5,588.0 L1358.5,590.9 L1359.5,593.7 L1360.5,596.6 L1361.5,599.4 L1362.4,602.3 L1363.4,605.1 L1364.4,608.0 L1365.3,610.8 L1366.3,613.7 L1367.2,616.6 L1368.2,619.4 L1369.1,622.3 L1370.0,625.2 L1370.9,628.0 L1371.9,630.9 L1372.8,633.8 L1373.7,636.7 L1374.6,639.5 L1375.5,642.4 L1376.4,645.3 L1377.3,648.1 L1378.2,651.0 L1379.1,653.9 L1379.9,656.8 L1380.8,659.7 L1381.7,662.5 L1382.5,665.4 L1383.4,668.3 L1384.3,671.2 L1385.1,674.1 L1385.9,676.9 L1386.8,679.8 L1387.6,682.7 L1388.4,685.6 L1389.3,688.5 L1390.1,691.4 L1390.9,694.2 L1391.7,697.1 L1392.5,700.0 L1393.3,702.9 L1394.1,705.8 L1394.9,708.7 L1395.7,711.5 L1396.5,714.4 L1397.2,717.3 L1398.0,720.2 L1398.8,723.1 L1399.6,726.0 L1400.3,728.9 L1401.1,731.7 L1401.9,734.6 L1402.6,737.5 L1403.4,740.4 L1404.1,743.3 L1404.9,746.2 L1405.6,749.1 L1406.4,751.9 L1407.1,754.8 L1407.9,757.7 L1408.7,760.6 L1409.4,763.5 L1410.2,766.4 L1410.9,769.2 L1411.7,772.1 L1412.5,775.0 L1413.2,777.9 L1414.0,780.8 L1414.8,783.7 L1415.5,786.5 L1416.3,789.4 L1417.1,792.3 L1417.9,795.2 L1418.6,798.1 L1419.4,801.0 L1420.2,803.8 L1421.0,806.7 L1421.8,809.6 L1422.6,812.5 L1423.5,815.4 L1424.3,818.2 L1425.1,821.1 L1425.9,824.0 L1426.8,826.9 L1427.6,829.8 L1428.5,832.6 L1429.4,835.5 L1430.2,838.4 L1431.1,841.3 L1432.0,844.2 L1432.9,847.0 L1433.8,849.9 L1434.7,852.8 L1435.6,855.7 L1436.6,858.5 L1437.5,861.4 L1438.4,864.3 L1439.4,867.2 L1440.4,870.0 L1441.4,872.9 L1442.4,875.8 L1443.4,878.6 L1444.5,881.5 L1445.6,884.3 L1446.7,887.1 L1447.9,889.9 L1449.2,892.6 L1450.5,895.3 L1451.9,898.0 L1453.4,900.6 L1454.9,903.2 L1456.5,905.7 L1458.2,908.1 L1460.0,910.5 L1461.9,912.9 L1463.8,915.1 L1465.9,917.3 L1468.0,919.4 L1470.1,921.4 L1472.4,923.4 L1474.7,925.2 L1477.1,926.9 L1479.6,928.5 L1482.1,930.1 L1484.6,931.6 L1487.3,933.0 L1489.9,934.3 L1492.6,935.5 L1495.3,936.7 L1498.0,937.8 L1500.7,938.9 L1503.5,939.9 L1506.3,940.9 L1509.1,941.8 L1511.9,942.7 L1514.8,943.6 L1517.6,944.4 L1520.5,945.2 L1523.4,946.0 L1526.3,946.8 L1529.2,947.5 L1532.2,948.3 L1535.1,949.1 L1538.0,949.9 L1541.0,950.7 L1543.9,951.5 L1546.9,952.3 L1549.9,953.1 L1552.8,953.9 L1555.8,954.8 L1558.7,955.6 L1561.7,956.4 L1564.7,957.2 L1567.6,958.1 L1570.6,958.8 L1573.5,959.6 L1576.4,960.4 L1579.4,961.2 L1582.3,962.0 L1585.3,962.7 L1588.2,963.5 L1591.1,964.2 L1594.1,965.0 L1597.0,965.7 L1599.9,966.4 L1602.8,967.1 L1605.8,967.8 L1608.7,968.5 L1611.6,969.2 L1614.5,969.9 L1617.4,970.6 L1620.4,971.3 L1623.3,971.9 L1626.2,972.6 L1629.1,973.3 L1632.0,973.9 L1634.9,974.6 L1637.9,975.2 L1640.8,975.8 L1643.7,976.4 L1646.6,977.1 L1649.5,977.7 L1652.4,978.3 L1655.3,978.9 L1658.3,979.5 L1661.2,980.1 L1664.1,980.6 L1667.0,981.2 L1669.9,981.8 L1672.9,982.4 L1675.8,982.9 L1678.7,983.5 L1681.6,984.0 L1684.5,984.6 L1687.5,985.1 L1690.4,985.6 L1693.3,986.2 L1696.3,986.7 L1699.2,987.2 L1702.1,987.7 L1705.1,988.2 L1708.0,988.7 L1710.9,989.2 L1713.9,989.7 L1716.8,990.2 L1719.8,990.7 L1722.7,991.2 L1725.6,991.7 L1728.6,992.1 L1731.5,992.6 L1734.5,993.1 L1737.4,993.5 L1740.4,994.0 L1743.4,994.4 L1746.3,994.9 L1749.3,995.3 L1752.2,995.8 L1755.2,996.2 L1758.1,996.7 L1761.1,997.1 L1764.1,997.5 L1767.0,998.0 L1770.0,998.4 L1773.0,998.8 L1775.9,999.2 L1778.9,999.6 L1781.9,1000.1 L1784.8,1000.5 L1787.8,1000.9 L1790.8,1001.3 L1793.8,1001.7 L1796.7,1002.1 L1799.7,1002.5 L1802.7,1002.9 L1805.7,1003.3 L1808.6,1003.7 L1811.6,1004.1 L1814.6,1004.5 L1817.6,1004.9 L1820.6,1005.3 L1823.5,1005.7 L1826.5,1006.1 L1829.5,1006.5 L1832.5,1006.8 L1835.5,1007.2 L1838.4,1007.6 L1841.4,1008.0 L1844.4,1008.4 L1847.4,1008.8 L1850.4,1009.2 L1853.4,1009.5 L1856.4,1009.9 L1859.3,1010.3 L1862.3,1010.7 L1865.3,1011.1 L1868.3,1011.5 L1871.3,1011.8 L1874.3,1012.2 L1877.3,1012.6 L1880.3,1013.0 L1883.3,1013.4 L1886.2,1013.8 L1889.2,1014.1 L1892.2,1014.5 L1895.2,1014.9 L1898.2,1015.3 L1901.2,1015.7 L1904.2,1016.1 L1907.2,1016.5 L1910.2,1016.9 L1913.1,1017.3 L1916.1,1017.7 L1919.1,1018.1 L1922.1,1018.4 L1925.1,1018.8 L1928.1,1019.2 L1931.1,1019.6 L1934.1,1020.0 L1937.1,1020.4 L1940.0,1020.8 L1943.0,1021.2 L1946.0,1021.6 L1949.0,1021.9 L1952.0,1022.3 L1955.0,1022.7 L1958.0,1023.1 L1961.0,1023.4 L1963.9,1023.8 L1966.9,1024.2 L1969.9,1024.5 L1972.9,1024.9 L1975.9,1025.3 L1978.9,1025.6 L1981.8,1026.0 L1984.8,1026.3 L1987.8,1026.6 L1990.8,1027.0 L1993.8,1027.3 L1996.7,1027.6 L1999.7,1027.9 L2002.7,1028.3 L2005.7,1028.6 L2008.6,1028.9 L2011.6,1029.2 L2014.6,1029.5 L2017.6,1029.7 L2020.5,1030.0 L2023.5,1030.3 L2026.5,1030.5 L2029.4,1030.8 L2032.4,1031.0 L2035.4,1031.3 L2038.3,1031.5 L2041.3,1031.7 L2044.3,1031.9 L2045.0,1032.0"/>
</g>
<g class="ax">
<rect x="334" y="15" width="1857" height="7"/>
<rect x="334" y="1276" width="1857" height="9"/>
<rect x="334" y="15" width="9" height="1270"/>
<rect x="2183" y="15" width="8" height="1270"/>
<rect x="343" y="128" width="19" height="10"/>
<rect x="343" y="358" width="19" height="9"/>
<rect x="343" y="587" width="19" height="10"/>
<rect x="343" y="817" width="19" height="9"/>
<rect x="343" y="1047" width="19" height="9"/>
<rect x="760" y="1257" width="10" height="19"/>
<rect x="1187" y="1257" width="9" height="19"/>
<rect x="1614" y="1257" width="9" height="19"/>
<rect x="2040" y="1257" width="9" height="19"/>
</g>
<g class="tx">
<g class="nk" font-size="77" text-anchor="end">
<text transform="translate(272,158.7) scale(1,1.024)">100</text>
<text transform="translate(272,388.2) scale(1,1.024)">80</text>
<text transform="translate(272,617.6) scale(1,1.024)">60</text>
<text transform="translate(272,847.1) scale(1,1.024)">40</text>
<text transform="translate(272,1076.5) scale(1,1.024)">20</text>
<text transform="translate(272,1306.0) scale(1,1.024)">0</text>
</g>
<g class="nk" font-size="77" text-anchor="middle">
<text transform="translate(338.5,1398) scale(1,1.024)">0</text>
<text transform="translate(766.0,1398) scale(1,1.024)">150</text>
<text transform="translate(1192.5,1398) scale(1,1.024)">300</text>
<text transform="translate(1619.0,1398) scale(1,1.024)">450</text>
<text transform="translate(2045.5,1398) scale(1,1.024)">600</text>
</g>
<g class="nk" font-size="77">
<line x1="1371.6" y1="156.5" x2="1454.4" y2="156.5" stroke="#2E75B6" stroke-width="9.5" stroke-linecap="round" shape-rendering="crispEdges"/>
<text transform="translate(1462.8,182.0) scale(1,1.0)">Makino bamboo</text>
<line x1="1371.6" y1="270.7" x2="1454.4" y2="270.7" stroke="#00B050" stroke-width="9.5" stroke-linecap="round" shape-rendering="crispEdges"/>
<text transform="translate(1462.8,296.2) scale(1,1.0)">India-charcoal trema</text>
<line x1="1371.6" y1="384.9" x2="1454.4" y2="384.9" stroke="#7030A0" stroke-width="9.5" stroke-linecap="round" shape-rendering="crispEdges"/>
<text transform="translate(1462.8,410.4) scale(1,1.0)">Taiwan red pine</text>
<line x1="1371.6" y1="499.1" x2="1454.4" y2="499.1" stroke="#FF0000" stroke-width="9.5" stroke-linecap="round" shape-rendering="crispEdges"/>
<text transform="translate(1462.8,524.6) scale(1,1.0)">Chinese fir</text>
</g>
<text x="911" y="1521" font-size="94">Temperature (<tspan font-size="62.7" dy="-29">o</tspan><tspan dy="29">C)</tspan></text>
<text transform="translate(87,1107) rotate(-90)" font-size="94" letter-spacing="0.14">Residual weight (wt%)</text>
</g>
</svg></body></html>
